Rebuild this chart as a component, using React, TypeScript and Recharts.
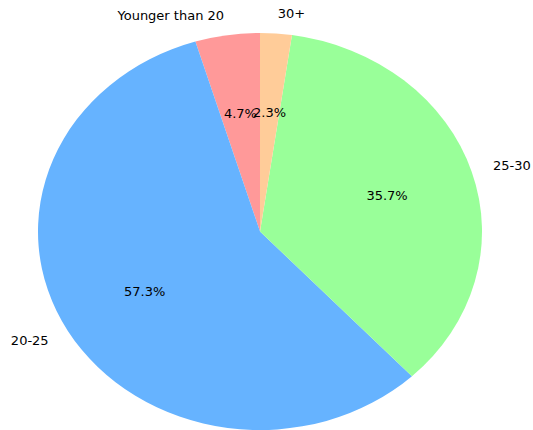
import { PieChart, Pie, Cell } from 'recharts';

const ageGroups = ['Younger than 20', '20-25', '25-30', '30+'];
const shares = [4.7, 57.3, 35.7, 2.3];
const sliceColors = ['#ff9999', '#66b3ff', '#99ff99', '#ffcc99'];

const data = ageGroups.map((name, i) => ({ name, value: shares[i] }));

// the reference pie is stretched, so draw it as an ellipse
const RX = 222;
const RY = 198.5;
const RAD = Math.PI / 180;

function EllipseSector(props: any) {
  const { cx, cy, startAngle, endAngle, fill } = props;
  const sx = cx + RX * Math.cos(startAngle * RAD);
  const sy = cy - RY * Math.sin(startAngle * RAD);
  const ex = cx + RX * Math.cos(endAngle * RAD);
  const ey = cy - RY * Math.sin(endAngle * RAD);
  const large = Math.abs(endAngle - startAngle) > 180 ? 1 : 0;
  const sweep = endAngle > startAngle ? 0 : 1;
  const d = `M${cx},${cy} L${sx},${sy} A${RX},${RY} 0 ${large} ${sweep} ${ex},${ey} Z`;
  return <path d={d} fill={fill} stroke="none" />;
}

function renderLabel(props: any) {
  const { cx, cy, midAngle, index } = props;
  const c = Math.cos(midAngle * RAD);
  const s = Math.sin(midAngle * RAD);
  return (
    <g>
      <text
        x={cx + 1.1 * RX * c}
        y={cy - 1.1 * RY * s}
        textAnchor={c >= 0 ? 'start' : 'end'}
        dominantBaseline="central"
        fill="#000"
        fontSize={13}
      >
        {ageGroups[index]}
      </text>
      <text
        x={cx + 0.6 * RX * c}
        y={cy - 0.6 * RY * s}
        textAnchor="middle"
        dominantBaseline="central"
        fill="#000"
        fontSize={13}
      >
        {shares[index].toFixed(1)}%
      </text>
    </g>
  );
}

export default function App() {
  return (
    <div style={{ position: 'absolute', left: 0, top: 0, background: '#fff', fontFamily: 'DejaVu Sans' }}>
      <PieChart width={533} height={430} margin={{ top: 0, right: 0, bottom: 0, left: 0 }}>
        <Pie
          data={data}
          dataKey="value"
          nameKey="name"
          cx={260}
          cy={231.5}
          outerRadius={RX}
          startAngle={90}
          endAngle={450}
          stroke="none"
          shape={EllipseSector}
          label={renderLabel}
          labelLine={false}
          isAnimationActive={false}
        >
          {data.map((d, i) => (
            <Cell key={d.name} fill={sliceColors[i]} />
          ))}
        </Pie>
      </PieChart>
    </div>
  );
}
